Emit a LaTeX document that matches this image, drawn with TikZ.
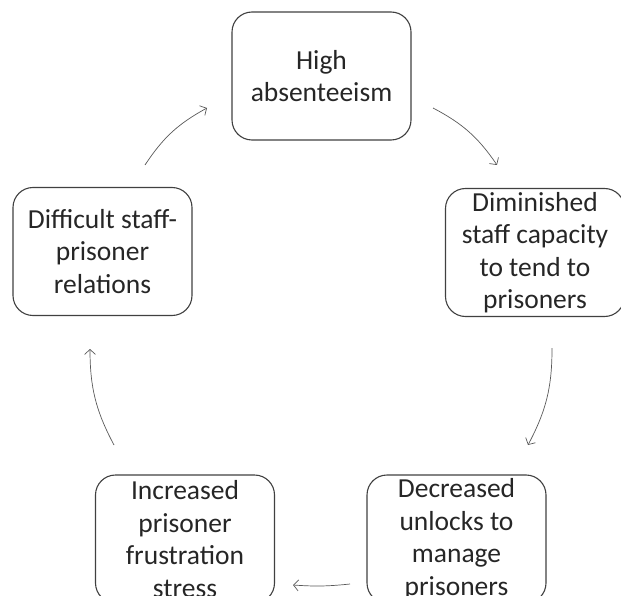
\documentclass[tikz,border=0pt]{standalone}
\usepackage{fontspec}
\setmainfont{Carlito}
\usetikzlibrary{%
  positioning
 ,arrows.meta
}
\tikzstyle{box}=[draw=black!75,line width=1.1pt,rounded corners=20pt,minimum width=179pt,minimum height=128pt,inner sep=0pt]
\tikzstyle{txt}=[text=black!85,align=center,inner sep=0pt,font=\fontsize{27.5}{32.5}\selectfont]
\tikzstyle{cyc}=[draw=black!65,line width=0.7pt,-{Straight Barb[length=5pt,width=11pt]},bend left=14]

\begin{document}
\begin{tikzpicture}[x=1pt,y=-1pt]
  \useasboundingbox (0,0) rectangle (621,596);
  \node[box,label={[txt]center:High\\absenteeism}]                      (high)   at (321.5,76)  {};
  \node[box,label={[txt]center:Diminished\\staff capacity\\to tend to\\prisoners}] (dimin)  at (535,252.5) {};
  \node[box,label={[txt]center:Decreased\\unlocks to\\manage\\prisoners}]   (unlock) at (456.5,539) {};
  \node[box,label={[txt]center:Increased\\prisoner\\frustration\\stress}]  (frust)  at (185,539)   {};
  \node[box,label={[txt]center:Difficult staff-\\prisoner\\relations}]     (rel)    at (102.5,251.5) {};
% arrow ends
  \coordinate (a1s) at (433,108);  \coordinate (a1e) at (497,165);
  \coordinate (a2s) at (552,348);  \coordinate (a2e) at (528,445);
  \coordinate (a3s) at (350,584);  \coordinate (a3e) at (293,585);
  \coordinate (a4s) at (114,445);  \coordinate (a4e) at (90,349);
  \coordinate (a5s) at (145,165);  \coordinate (a5e) at (207,108);
%
  \path
  (a1s) edge [cyc] (a1e)
  (a2s) edge [cyc] (a2e)
  (a3s) edge [cyc,bend left=5] (a3e)
  (a4s) edge [cyc] (a4e)
  (a5s) edge [cyc] (a5e);
\end{tikzpicture}
\end{document}
